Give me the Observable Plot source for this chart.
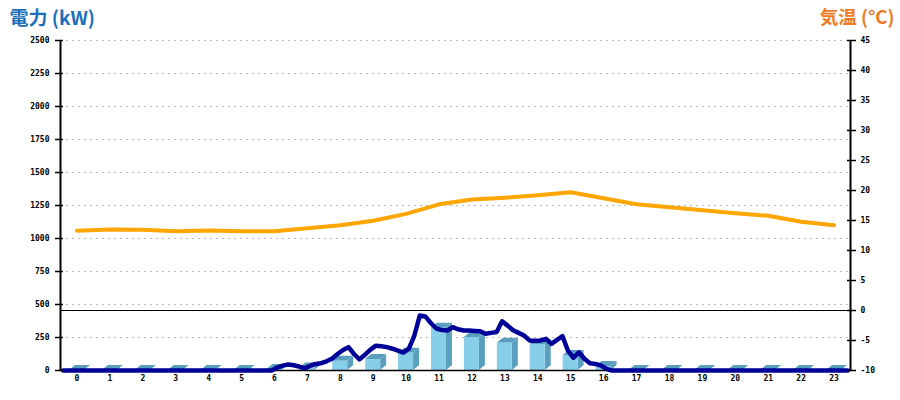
<!DOCTYPE html>
<html><head><meta charset="utf-8">
<script src="https://cdn.jsdelivr.net/npm/d3@7"></script>
<script src="https://cdn.jsdelivr.net/npm/@observablehq/plot@0.6"></script>
<style>body{margin:0;background:#fff}</style>
</head><body><div id="chart"></div>
<script>
// hour categories / x tick labels
const hours = [0,1,2,3,4,5,6,7,8,9,10,11,12,13,14,15,16,17,18,19,20,21,22,23];
// hourly bars (kW)
const energy = [0,0,0,0,0,0,8,18,70,83,131,320,250,207,197,114,30,0,0,0,0,0,0,0];
// hourly temperature (°C)
const temperature = [13.3,13.5,13.45,13.2,13.35,13.2,13.2,13.7,14.2,14.95,16.1,17.7,18.5,18.8,19.2,19.7,18.7,17.7,17.2,16.7,16.2,15.8,14.8,14.2];
// 10-minute power (kW), one row per hour
const power10min = [
  0,0,0,0,0,0,
  0,0,0,0,0,0,
  0,0,0,0,0,0,
  0,0,0,0,0,0,
  0,0,0,0,0,0,
  0,0,0,0,0,0,
  0,0,0,22,37,45,
  40,30,17,35,50,55,
  70,90,125,155,177,125,
  85,120,158,188,183,177,
  165,150,136,165,265,417,
  410,360,318,306,303,328,
  312,303,303,300,297,278,
  285,292,373,340,305,285,
  265,228,226,228,240,202,
  232,260,150,96,138,89,
  55,50,38,13,0,0,
  0,0,0,0,0,0,
  0,0,0,0,0,0,
  0,0,0,0,0,0,
  0,0,0,0,0,0,
  0,0,0,0,0,0,
  0,0,0,0,0,0,
  0,0,0,0,0,0
];
const kwTicks = [0,250,500,750,1000,1250,1500,1750,2000,2250,2500];
const tempTicks = [-10,-5,0,5,10,15,20,25,30,35,40,45];

const KW_MAX = 2500, T_MIN = -10, T_MAX = 45;
const toKW = t => (t - T_MIN) * KW_MAX / (T_MAX - T_MIN);
const fromKW = v => v * (T_MAX - T_MIN) / KW_MAX + T_MIN;

const dX = 0.182, dY = 38;
const bars = hours.map((h, i) => ({h, v: energy[i], x1: h - 0.23, x2: h + 0.226}));
const sideFaces = bars.flatMap(b => [
  {z: b.h, x: b.x2, y1: 0, y2: b.v},
  {z: b.h, x: b.x2 + dX, y1: dY, y2: b.v + dY}
]);
const topFaces = bars.flatMap(b => [
  {z: b.h, y: b.v, x1: b.x1, x2: b.x2},
  {z: b.h, y: b.v + dY, x1: b.x1 + dX, x2: b.x2 + dX}
]);

const chart = Plot.plot({
  width: 900, height: 400,
  marginLeft: 60, marginRight: 50, marginTop: 40, marginBottom: 30,
  x: {type: "linear", domain: [-0.5, 23.5], axis: null},
  y: {domain: [0, 2500], axis: null},
  style: {fontFamily: "DejaVu Sans Mono", fontSize: "8px", fontWeight: "bold", color: "#000", background: "#fff"},
  marks: [
    Plot.ruleY(kwTicks.filter(d => d > 0), {stroke: "#bbb", strokeDasharray: "2,4", strokeWidth: 1}),
    Plot.areaX(topFaces, {y: "y", x1: "x1", x2: "x2", z: "z", fill: "#5b9fbf"}),
    Plot.areaY(sideFaces, {x: "x", y1: "y1", y2: "y2", z: "z", fill: "#5b9fbf"}),
    Plot.rect(bars, {x1: "x1", x2: "x2", y1: 0, y2: "v", fill: "#87ceeb"}),
    Plot.ruleY([0], {stroke: "#000", strokeWidth: 1.5}),
    Plot.ruleY([toKW(0)], {stroke: "#000", strokeWidth: 1}),
    Plot.line(temperature, {x: (d, i) => hours[i], y: d => toKW(d), stroke: "#ffa500", strokeWidth: 4}),
    Plot.line(power10min, {x: (d, i) => (i + 0.5) / 6 - 0.5, y: d => d, stroke: "#000099", strokeWidth: 4.5, strokeLinejoin: "round"}),
    Plot.ruleX([-0.5], {stroke: "#000", strokeWidth: 2}),
    Plot.ruleX([23.5], {stroke: "#000", strokeWidth: 2}),
    Plot.axisY(kwTicks, {anchor: "left", tickSize: 8, dx: 3, tickPadding: 6, label: null, strokeWidth: 1.5, tickFormat: d => String(d)}),
    Plot.axisY(tempTicks.map(toKW), {anchor: "right", tickSize: 9, dx: -4, tickPadding: 5, label: null, strokeWidth: 1.5, tickFormat: d => String(Math.round(fromKW(d)))}),
    Plot.axisX(hours, {anchor: "bottom", tickSize: 0, tickPadding: 5, label: null, tickFormat: d => String(d)}),
    Plot.text(["電力 (kW)"], {text: d => d, frameAnchor: "top-left", dx: -51, dy: -22, lineAnchor: "middle", textAnchor: "start", fill: "#1c6fb9", fontSize: 19, fontWeight: "bold", fontFamily: "Noto Sans CJK JP"}),
    Plot.text(["気温 (°C)"], {text: d => d, frameAnchor: "top-right", dx: 44, dy: -22, lineAnchor: "middle", textAnchor: "end", fill: "#f07a24", fontSize: 18.5, fontWeight: "bold", fontFamily: "Noto Sans CJK JP"})
  ]
});
document.getElementById("chart").append(chart);
</script>
</body></html>
